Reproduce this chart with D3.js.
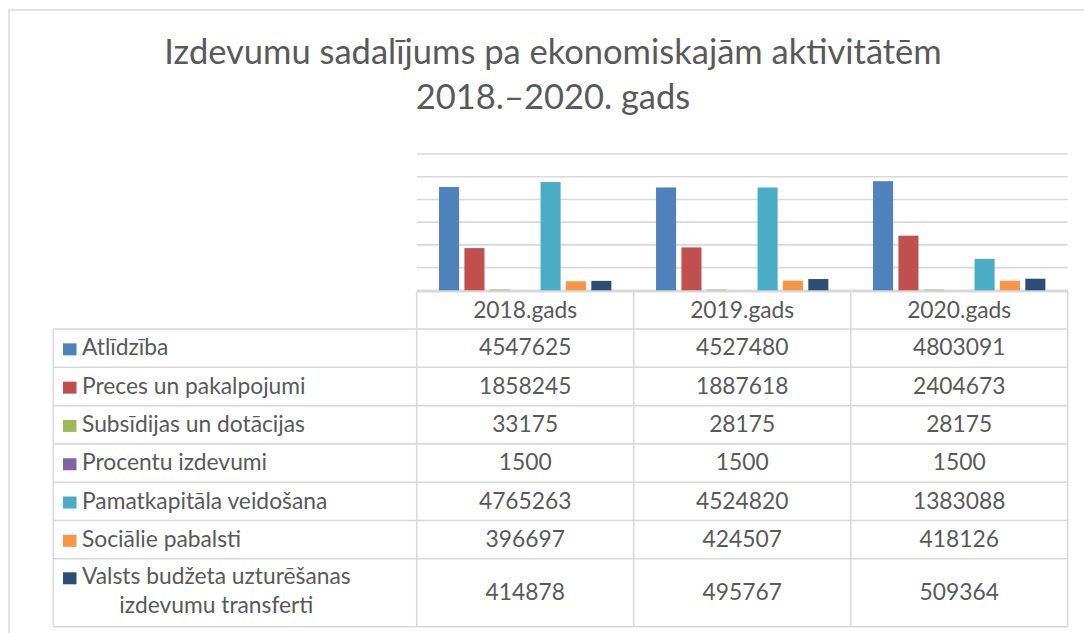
<!DOCTYPE html>
<html>
<head>
<meta charset="utf-8">
<script src="https://cdn.jsdelivr.net/npm/d3@7"></script>
<style>
  html, body { margin: 0; padding: 0; background: #fff; }
  svg { display: block; }
  text { font-family: Lato, "Open Sans", sans-serif; fill: #595959; }
</style>
</head>
<body>
<svg id="chart" width="1084" height="633"></svg>
<script>
// ---- data ----
const titleLines = ["Izdevumu sadalījums pa ekonomiskajām aktivitātēm", "2018.–2020. gads"];
const categories = ["2018.gads", "2019.gads", "2020.gads"];
const seriesNames = [
  "Atlīdzība",
  "Preces un pakalpojumi",
  "Subsīdijas un dotācijas",
  "Procentu izdevumi",
  "Pamatkapitāla veidošana",
  "Sociālie pabalsti",
  "Valsts budžeta uzturēšanas izdevumu transferti"
];
const atlidziba = [4547625, 4527480, 4803091];
const preces = [1858245, 1887618, 2404673];
const subsidijas = [33175, 28175, 28175];
const procenti = [1500, 1500, 1500];
const pamatkapitals = [4765263, 4524820, 1383088];
const socialie = [396697, 424507, 418126];
const transferti = [414878, 495767, 509364];
const seriesValues = [atlidziba, preces, subsidijas, procenti, pamatkapitals, socialie, transferti];
const seriesColors = ["#4F81BD", "#C0504D", "#9BBB59", "#8064A2", "#4BACC6", "#F79646", "#2C4D75"];
const yTicks = [0, 1000000, 2000000, 3000000, 4000000, 5000000, 6000000];

// ---- layout ----
const svg = d3.select("#chart");
const grid = "#d9d9d9";
const plotLeft = 416.7, plotRight = 1067.7;
const plotTop = 154, plotBottom = 290.3;
const tableLeft = 53.3, headerTop = 291.7;
const rowTops = [329, 367.3, 405.6, 443.9, 482.2, 520.5, 558.8];
const tableBottom = 626.7;

// outer chart border
svg.append("rect")
  .attr("x", 9).attr("y", 10).attr("width", 1100).attr("height", 660)
  .attr("fill", "none").attr("stroke", grid).attr("stroke-width", 1.5);

// title
const title = svg.append("text").attr("text-anchor", "middle")
  .style("font-size", "34.5px");
title.selectAll("tspan").data(titleLines).join("tspan")
  .attr("x", 553).attr("y", (d, i) => 64 + i * 45).text(d => d);

// scales
const x0 = d3.scaleBand().domain(categories).range([plotLeft, plotRight]).padding(0);
const x1 = d3.scaleBand().domain(d3.range(seriesNames.length))
  .range([0, x0.bandwidth()]).paddingInner(0.21).paddingOuter(0.88);
const y = d3.scaleLinear().domain([0, 6000000]).range([plotBottom, plotTop]);

// gridlines
svg.append("g").selectAll("line").data(yTicks).join("line")
  .attr("x1", plotLeft).attr("x2", plotRight)
  .attr("y1", d => y(d)).attr("y2", d => y(d))
  .attr("stroke", grid).attr("stroke-width", 1.6);

// bars
const bars = svg.append("g");
seriesValues.forEach((vals, si) => {
  bars.append("g").attr("fill", seriesColors[si])
    .selectAll("rect").data(vals).join("rect")
    .attr("x", (d, ci) => x0(categories[ci]) + x1(si))
    .attr("width", x1.bandwidth())
    .attr("y", d => y(d))
    .attr("height", d => y(0) - y(d));
});

// ---- data table ----
const tbl = svg.append("g").attr("stroke", grid).attr("stroke-width", 1.6).attr("fill", "none");
const colEdges = [plotLeft].concat(categories.map(c => x0(c) + x0.bandwidth()));
tbl.append("line").attr("x1", plotLeft).attr("x2", plotRight).attr("y1", headerTop).attr("y2", headerTop);
rowTops.concat([tableBottom]).forEach(t => {
  tbl.append("line").attr("x1", tableLeft).attr("x2", plotRight).attr("y1", t).attr("y2", t);
});
tbl.append("line").attr("x1", tableLeft).attr("x2", tableLeft).attr("y1", rowTops[0]).attr("y2", tableBottom);
colEdges.forEach(xv => {
  tbl.append("line").attr("x1", xv).attr("x2", xv).attr("y1", headerTop).attr("y2", tableBottom);
});

const fs = 22.8;
svg.append("g").selectAll("text").data(categories).join("text")
  .attr("x", d => x0(d) + x0.bandwidth() / 2)
  .attr("y", (headerTop + rowTops[0]) / 2 + 7.5)
  .attr("text-anchor", "middle").style("font-size", fs + "px")
  .text(d => d);

const rowBottoms = rowTops.slice(1).concat([tableBottom]);
seriesNames.forEach((name, si) => {
  const top = rowTops[si], bot = rowBottoms[si];
  const mid = (top + bot) / 2;
  const last = si === seriesNames.length - 1;
  const base1 = last ? 584.3 : mid + 7.2;
  svg.append("rect").attr("x", 63).attr("y", base1 - 12).attr("width", 13.5).attr("height", 12)
    .attr("fill", seriesColors[si]);
  if (!last) {
    svg.append("text").attr("x", 82).attr("y", base1).style("font-size", fs + "px").text(name);
  } else {
    const l1 = "Valsts budžeta uzturēšanas", l2 = "izdevumu transferti";
    const t1 = svg.append("text").attr("x", 82).attr("y", base1).style("font-size", fs + "px").text(l1);
    const w = t1.node().getComputedTextLength();
    svg.append("text").attr("x", 82 + w / 2).attr("y", base1 + 29)
      .attr("text-anchor", "middle").style("font-size", fs + "px").text(l2);
  }
  svg.append("g").selectAll("text").data(seriesValues[si]).join("text")
    .attr("x", (d, ci) => x0(categories[ci]) + x0.bandwidth() / 2)
    .attr("y", mid + 7.2)
    .attr("text-anchor", "middle").style("font-size", fs + "px")
    .text(d => d);
});
</script>
</body>
</html>
